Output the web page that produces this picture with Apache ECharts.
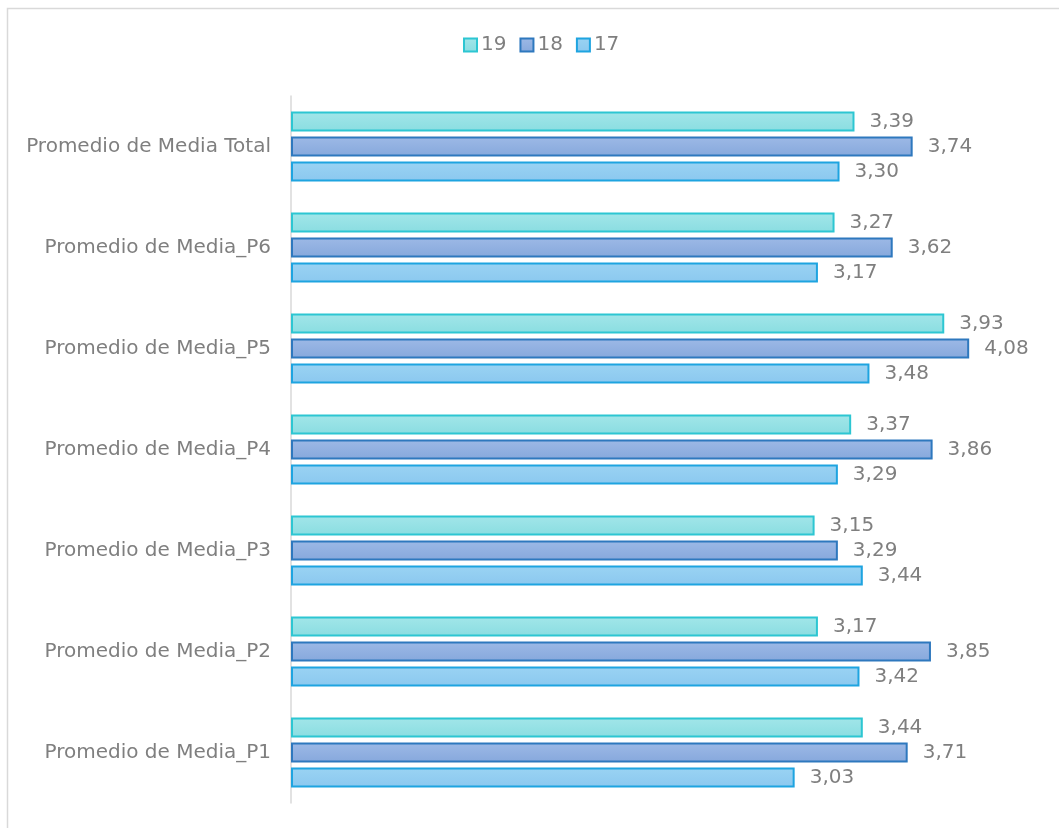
<!DOCTYPE html>
<html>
<head>
<meta charset="utf-8">
<script src="https://cdn.jsdelivr.net/npm/echarts@6/dist/echarts.min.js"></script>
<style>
  html, body { margin: 0; padding: 0; background: #fff; }
  #main { width: 1059px; height: 828px; }
</style>
</head>
<body>
<div id="main"></div>
<script>
// categories bottom -> top (as ECharts draws them on a category y axis)
var categories = ['Promedio de Media_P1', 'Promedio de Media_P2', 'Promedio de Media_P3',
  'Promedio de Media_P4', 'Promedio de Media_P5', 'Promedio de Media_P6', 'Promedio de Media Total'];
var values17 = [3.03, 3.42, 3.44, 3.29, 3.48, 3.17, 3.30];
var values18 = [3.71, 3.85, 3.29, 3.86, 4.08, 3.62, 3.74];
var values19 = [3.44, 3.17, 3.15, 3.37, 3.93, 3.27, 3.39];

var chart = echarts.init(document.getElementById('main'));

var fontFam = '"DejaVu Sans", sans-serif';
function grad(c1, c2) {
  return new echarts.graphic.LinearGradient(0, 0, 0, 1, [
    { offset: 0, color: c1 }, { offset: 1, color: c2 }
  ]);
}
function mkSeries(name, data, fill, border) {
  return {
    name: name,
    type: 'bar',
    data: data,
    barWidth: 20,
    barGap: '25%',
    itemStyle: { color: fill, borderColor: border, borderWidth: 2 },
    label: {
      show: true,
      position: 'right',
      distance: 15,
      color: '#7f7f7f',
      fontSize: 20,
      fontFamily: fontFam,
      formatter: function (p) { return p.value.toFixed(2).replace('.', ','); }
    }
  };
}

var option = {
  animation: false,
  backgroundColor: '#fff',
  graphic: [{
    type: 'polyline',
    shape: { points: [[7.5, 840], [7.5, 8.5], [1070, 8.5]] },
    style: { fill: null, stroke: '#d9d9d9', lineWidth: 1.5 },
    silent: true
  }],
  legend: {
    data: ['19', '18', '17'],
    top: 30,
    left: 458,
    itemWidth: 13,
    itemHeight: 13,
    itemGap: 13,
    icon: 'rect',
    textStyle: { color: '#7f7f7f', fontSize: 20, fontFamily: fontFam, padding: [0, 0, 0, -1] }
  },
  grid: {
    left: 291,
    right: 20,
    top: 96,
    bottom: 25,
    containLabel: false
  },
  xAxis: {
    type: 'value',
    min: 0,
    max: 4.5,
    show: false
  },
  yAxis: {
    type: 'category',
    data: categories,
    axisLine: { show: true, lineStyle: { color: '#d9d9d9', width: 1.5 } },
    axisTick: { show: false },
    axisLabel: { color: '#7f7f7f', fontSize: 20, fontFamily: fontFam, margin: 20 }
  },
  series: [
    mkSeries('19', values19, grad('#a2e6e9', '#8adde1'), '#2dc6d2'),
    mkSeries('18', values18, grad('#9db9e6', '#86a8dc'), '#2e78be'),
    mkSeries('17', values17, grad('#9ad3f3', '#8bc8ef'), '#1ea4e0')
  ]
};

chart.setOption(option);
window.onresize = function () { chart.resize(); };
</script>
</body>
</html>
